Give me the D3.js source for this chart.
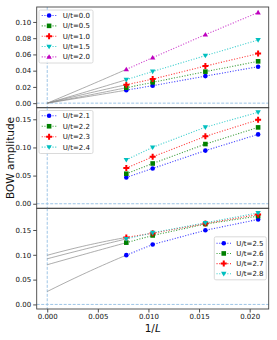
<!DOCTYPE html>
<html><head><meta charset="utf-8">
<script src="https://cdn.jsdelivr.net/npm/d3@7"></script>
<style>body{margin:0;background:#fff}svg{display:block;font-family:"DejaVu Sans",sans-serif}</style>
</head><body><div id="c"></div>
<script>
const xVals = [1/128, 1/96, 1/64, 1/48];
const xTicks = [0.000, 0.005, 0.010, 0.015, 0.020];

const labels1 = ["U/t=0.0","U/t=0.5","U/t=1.0","U/t=1.5","U/t=2.0"];
const u00 = [0.0160, 0.0215, 0.0333, 0.0449];
const u05 = [0.0190, 0.0256, 0.0388, 0.0515];
const u10 = [0.0227, 0.0296, 0.0457, 0.0610];
const u15 = [0.0289, 0.0390, 0.0585, 0.0778];
const u20 = [0.0416, 0.0560, 0.0844, 0.1116];
const fit1 = [0.0, 0.0, 0.0, 0.0, 0.0];
const yTicks1 = [0.00, 0.02, 0.04, 0.06, 0.08, 0.10];

const labels2 = ["U/t=2.1","U/t=2.2","U/t=2.3","U/t=2.4"];
const u21 = [0.0468, 0.0627, 0.0944, 0.1232];
const u22 = [0.0533, 0.0715, 0.1060, 0.1356];
const u23 = [0.0634, 0.0833, 0.1197, 0.1490];
const u24 = [0.0780, 0.1003, 0.1360, 0.1625];
const yTicks2 = [0.00, 0.05, 0.10, 0.15];

const labels3 = ["U/t=2.5","U/t=2.6","U/t=2.7","U/t=2.8"];
const u25 = [0.0993, 0.1207, 0.1494, 0.1713];
const u26 = [0.1245, 0.1390, 0.1620, 0.1780];
const u27 = [0.1350, 0.1435, 0.1630, 0.1813];
const u28 = [0.1320, 0.1445, 0.1645, 0.1845];
const fit3 = [0.026, 0.080, 0.099, 0.092];
const yTicks3 = [0.00, 0.05, 0.10, 0.15];

const styles = [
  {c:"#0000ff", m:"circle"}, {c:"#008000", m:"square"}, {c:"#ff0000", m:"plus"},
  {c:"#00bfbf", m:"tdown"}, {c:"#bf00bf", m:"tup"}
];

const W = 277, H = 340;
const L = 36.7, R = 268.7;
const svg = d3.select("#c").append("svg").attr("width", W).attr("height", H);

const x = d3.scaleLinear().domain([-0.00104, 0.02188]).range([L, R]);

const panels = [
  {top:7, bot:107.7, dom:[-0.0056, 0.1184], series:[u00,u05,u10,u15,u20], labels:labels1, styleIdx:[0,1,2,3,4], fit:fit1, ticks:yTicks1,
   leg:{x:39, y:10, w:54, h:53, hx0:41.7, hx1:56.5, tx:62.7, y0:15.5, dy:10.35}},
  {top:107.7, bot:208.3, dom:[-0.0081, 0.1706], series:[u21,u22,u23,u24], labels:labels2, styleIdx:[0,1,2,3], fit:null, ticks:yTicks2,
   leg:{x:39, y:110.5, w:54, h:43, hx0:41.7, hx1:56.5, tx:62.7, y0:115.8, dy:10.45}},
  {top:208.3, bot:309, dom:[-0.0092, 0.1937], series:[u25,u26,u27,u28], labels:labels3, styleIdx:[0,1,2,3], fit:fit3, ticks:yTicks3,
   leg:{x:214.3, y:236.8, w:52, h:43, hx0:216.5, hx1:231, tx:236.3, y0:243.3, dy:10.15}}
];

function marker(g, type, cx, cy, col) {
  const s = 2.3;
  if (type === "circle") g.append("circle").attr("cx",cx).attr("cy",cy).attr("r",s).attr("fill",col);
  else if (type === "square") g.append("rect").attr("x",cx-s).attr("y",cy-s).attr("width",2*s).attr("height",2*s).attr("fill",col);
  else if (type === "plus") g.append("path").attr("transform",`translate(${cx},${cy})`).attr("d", d3.symbol(d3.symbolCross, 20)()).attr("fill",col);
  else if (type === "tdown") g.append("path").attr("d",`M${cx-2.7},${cy-1.9} L${cx+2.7},${cy-1.9} L${cx},${cy+2.7} Z`).attr("fill",col);
  else if (type === "tup") g.append("path").attr("d",`M${cx-2.7},${cy+1.9} L${cx+2.7},${cy+1.9} L${cx},${cy-2.7} Z`).attr("fill",col);
}

panels.forEach((p, pi) => {
  const y = d3.scaleLinear().domain(p.dom).range([p.bot, p.top]);
  const g = svg.append("g");
  g.append("line").attr("x1",L).attr("x2",R).attr("y1",y(0)).attr("y2",y(0))
    .attr("stroke","#9ec5e6").attr("stroke-width",1).attr("stroke-dasharray","3,1.5");
  g.append("line").attr("x1",x(0)).attr("x2",x(0)).attr("y1",p.top).attr("y2",p.bot)
    .attr("stroke","#9ec5e6").attr("stroke-width",1).attr("stroke-dasharray","3,1.5");
  if (p.fit) {
    p.series.forEach((s, i) => {
      const a = p.fit[i], x1 = xVals[0], y1 = s[0], x2 = xVals[1], y2 = s[1];
      const m1 = (y1 - a)/x1, m2 = (y2 - a)/x2;
      const c = (m2 - m1)/(x2 - x1), b = m1 - c*x1;
      const pts = d3.range(0, 21).map(k => { const xx = x1*k/20; return [xx, a + b*xx + c*xx*xx]; });
      g.append("path").attr("d", d3.line().x(d=>x(d[0])).y(d=>y(d[1]))(pts))
        .attr("fill","none").attr("stroke","#8a8a8a").attr("stroke-width",0.7);
    });
  }
  p.series.forEach((s, i) => {
    const st = styles[p.styleIdx[i]];
    g.append("path").attr("d", d3.line().x((d,k)=>x(xVals[k])).y(d=>y(d))(s))
      .attr("fill","none").attr("stroke",st.c).attr("stroke-width",1.1).attr("stroke-dasharray","1.1,1.6").attr("opacity",0.75);
    s.forEach((v,k) => marker(g, st.m, x(xVals[k]), y(v), st.c));
  });
  const ya = g.append("g").attr("transform",`translate(${L},0)`)
    .call(d3.axisLeft(y).tickValues(p.ticks).tickFormat(d3.format(".2f")).tickSize(3.5).tickPadding(2));
  ya.select(".domain").remove();
  ya.selectAll("line").attr("stroke","#222").attr("stroke-width",0.8);
  ya.selectAll("text").attr("font-size",7).attr("fill","#111").attr("font-family","DejaVu Sans");
  const xa = g.append("g").attr("transform",`translate(0,${p.bot})`)
    .call(d3.axisBottom(x).tickValues(xTicks).tickFormat(pi===2 ? d3.format(".3f") : "").tickSize(pi===2?3.5:0).tickPadding(2));
  xa.select(".domain").remove();
  xa.selectAll("line").attr("stroke","#222").attr("stroke-width",0.8);
  xa.selectAll("text").attr("font-size",7).attr("fill","#111").attr("font-family","DejaVu Sans");
  g.append("rect").attr("x",L).attr("y",p.top).attr("width",R-L).attr("height",p.bot-p.top)
    .attr("fill","none").attr("stroke","#444").attr("stroke-width",0.9);
  const lg = p.leg;
  g.append("rect").attr("x",lg.x).attr("y",lg.y).attr("width",lg.w).attr("height",lg.h).attr("rx",1.5)
    .attr("fill","#fff").attr("fill-opacity",0.85).attr("stroke","#d0d0d0").attr("stroke-width",0.8);
  p.labels.forEach((lab, i) => {
    const st = styles[p.styleIdx[i]];
    const yy = lg.y0 + i*lg.dy;
    g.append("line").attr("x1",lg.hx0).attr("x2",lg.hx1).attr("y1",yy).attr("y2",yy)
      .attr("stroke",st.c).attr("stroke-width",1.1).attr("stroke-dasharray","1.1,1.6").attr("opacity",0.75);
    marker(g, st.m, (lg.hx0+lg.hx1)/2, yy, st.c);
    g.append("text").attr("x",lg.tx).attr("y",yy).attr("dy","0.35em").attr("font-size",7).attr("fill","#111").text(lab);
  });
});

svg.append("text").attr("transform","translate(13.5,158) rotate(-90)").attr("text-anchor","middle")
  .attr("font-size",10.5).attr("fill","#111").text("BOW amplitude");
const xl = svg.append("text").attr("x",152.7).attr("y",332).attr("text-anchor","middle").attr("font-size",10.5).attr("fill","#111");
xl.append("tspan").text("1/");
xl.append("tspan").attr("font-style","italic").text("L");
</script></body></html>
